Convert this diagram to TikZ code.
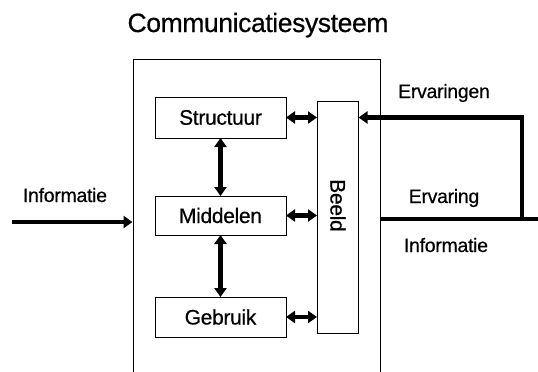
\documentclass[tikz,border=0pt]{standalone}
\usepackage{fontspec}
\setmainfont[FakeBold=0.5,LetterSpace=-1.5]{Liberation Sans}
\usetikzlibrary{arrows.meta}
\begin{document}
\begin{tikzpicture}[x=1pt,y=-1pt,
  box/.style={draw,line width=1pt,inner sep=0pt,font=\fontsize{21}{25}\selectfont},
  lbl/.style={anchor=base,inner sep=0pt,font=\fontsize{19.5}{23}\selectfont},
  heavy/.style={line width=4.4pt},
  tip/.style={Triangle[length=9pt,width=12pt]},
  dblarrow/.style={heavy,{Triangle[length=9pt,width=12pt]}-{Triangle[length=9pt,width=12pt]},shorten <=-0.5pt,shorten >=-0.5pt},
  onearrow/.style={heavy,-{Triangle[length=9pt,width=12pt]}}]
\useasboundingbox (0,0) rectangle (538,372);
\clip (0,0) rectangle (538,372);

% title and the system frame (open at the bottom)
\node[anchor=base,inner sep=0pt,font=\fontsize{26.5}{30}\selectfont] (title) at (258,32) {Communicatiesysteem};
\node[draw,line width=1pt,minimum width=247pt,minimum height=361pt,inner sep=0pt] (sys) at (256.5,239.5) {};

% inner blocks
\node[box,minimum width=131pt,minimum height=41pt] (struct) at (220.5,117.5) {Structuur};
\node[box,minimum width=131pt,minimum height=39pt] (mid) at (220.5,215.5) {Middelen};
\node[box,minimum width=131pt,minimum height=40pt] (gebr) at (220.5,317) {Gebruik};
\node[draw,line width=1pt,minimum width=41pt,minimum height=232pt,inner sep=0pt] (beeld) at (337.5,217) {};
\node[rotate=-90,inner sep=0pt,font=\fontsize{21}{25}\selectfont] (beeldtxt) at (338,205.5) {Beeld};

% links between the blocks
\draw[dblarrow] (struct.south) -- (mid.north);
\draw[dblarrow] (mid.south) -- (gebr.north);
\draw[dblarrow] (struct.east) -- (struct.east -| beeld.west);
\draw[dblarrow] (mid.east) -- (mid.east -| beeld.west);
\draw[dblarrow] (gebr.east) -- (gebr.east -| beeld.west);

% incoming information
\coordinate (inL) at (12,222);
\draw[onearrow] (inL) -- (inL -| sys.west);
\node[lbl] (infoL) at (65,202) {Informatie};

% outgoing experience, fed back as experiences
\coordinate (outR) at (538,219);
\coordinate (turn) at (522,219);
\draw[heavy] (outR -| sys.east) -- (outR);
\draw[onearrow] ([yshift=2.2pt]turn) |- (struct.east -| beeld.east);
\node[lbl] (ervn) at (444,98) {Ervaringen};
\node[lbl] (erv) at (444,203) {Ervaring};
\node[lbl] (infoR) at (446,252) {Informatie};
\end{tikzpicture}
\end{document}
